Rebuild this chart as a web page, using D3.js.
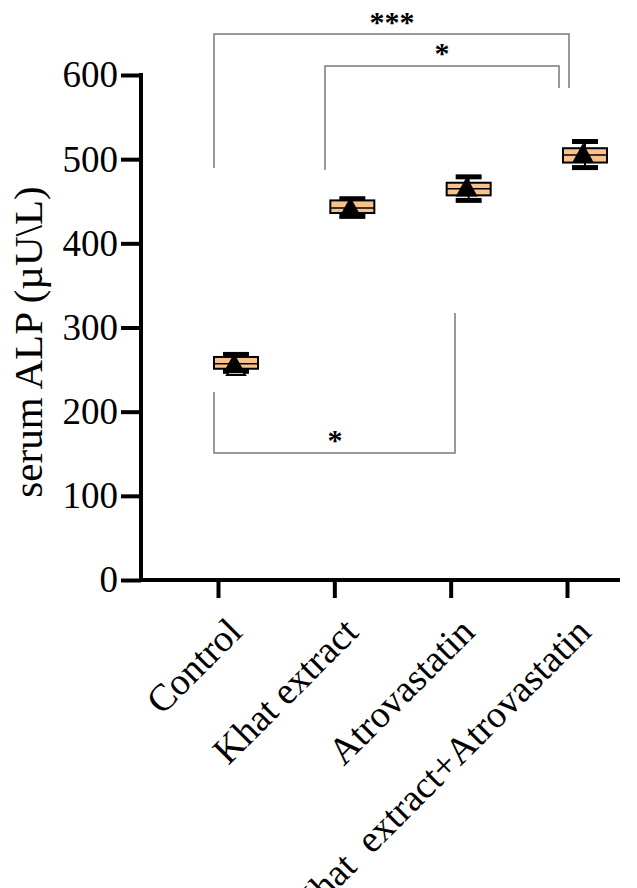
<!doctype html>
<html lang="en">
<head>
<meta charset="utf-8">
<script src="https://d3js.org/d3.v7.min.js"></script>
<style>
  body { margin:0; background:#fff; }
  text { font-family: "Liberation Serif", "Times New Roman", serif; }
</style>
</head>
<body>
<script>
  // data
  var groups  = ["Control", "Khat extract", "Atrovastatin", "Khat  extract+Atrovastatin"];
  var minVals = [248, 432, 451, 490];
  var q1Vals  = [251, 436, 457, 496];
  var medVals = [257, 442, 465, 505];
  var q3Vals  = [265, 451, 472, 513];
  var maxVals = [268, 453, 479, 521];
  var meanVals = [256, 442, 466, 506];
  var openPoint = [{g: "Control", v: 252}];
  var yTicks  = [0, 100, 200, 300, 400, 500, 600];

  var width = 637, height = 888;
  var x0 = 141, x1 = 620, yTop = 75, yBot = 580;

  var svg = d3.select("body").append("svg")
    .attr("width", width).attr("height", height);

  var y = d3.scaleLinear().domain([0, 600]).range([yBot, yTop]);
  var x = d3.scalePoint().domain(groups).range([218, 567]);

  // y axis
  var yAxis = d3.axisLeft(y).tickValues(yTicks).tickSize(20).tickSizeOuter(0).tickPadding(3);
  var gy = svg.append("g").attr("transform", "translate(" + x0 + ",0)").call(yAxis);
  gy.select(".domain").remove();
  gy.selectAll(".tick line").attr("stroke", "#000").attr("stroke-width", 4);
  gy.selectAll(".tick text").attr("font-size", 37).attr("fill", "#000")
    .attr("font-family", "Liberation Serif");
  svg.append("line").attr("x1", x0).attr("x2", x0).attr("y1", yTop - 2).attr("y2", yBot + 2)
    .attr("stroke", "#000").attr("stroke-width", 4);

  // x axis
  var xAxis = d3.axisBottom(x).tickSize(18).tickSizeOuter(0).tickFormat("");
  var gx = svg.append("g").attr("transform", "translate(0," + yBot + ")").call(xAxis);
  gx.select(".domain").remove();
  gx.selectAll(".tick line").attr("stroke", "#000").attr("stroke-width", 4);
  svg.append("line").attr("x1", x0 - 2).attr("x2", x1).attr("y1", yBot).attr("y2", yBot)
    .attr("stroke", "#000").attr("stroke-width", 4);

  svg.append("g").selectAll("text").data(groups).enter().append("text")
    .attr("transform", d => "translate(" + (x(d) + 26) + "," + (yBot + 54) + ") rotate(-45)")
    .attr("text-anchor", "end")
    .attr("font-size", 38)
    .attr("fill", "#000")
    .attr("xml:space", "preserve")
    .style("white-space", "pre")
    .text(d => d);

  // y label
  svg.append("text")
    .attr("transform", "translate(42,342) rotate(-90)")
    .attr("text-anchor", "middle")
    .attr("font-size", 41)
    .attr("fill", "#000")
    .text("serum ALP (\u00b5U\\L)");

  // boxes
  var bw = 44, cw = 26;
  var boxes = svg.append("g");
  function tri(cx, cy, s) {
    return "M" + cx + "," + (cy - s) + "L" + (cx + s) + "," + (cy + s * 0.8) + "L" + (cx - s) + "," + (cy + s * 0.8) + "Z";
  }
  groups.forEach(function (g, i) {
    var cx = x(g) + 18;
    boxes.append("line").attr("x1", cx).attr("x2", cx)
      .attr("y1", y(maxVals[i])).attr("y2", y(minVals[i]))
      .attr("stroke", "#000").attr("stroke-width", 2);
    [minVals[i], maxVals[i]].forEach(function (v) {
      boxes.append("line").attr("x1", cx - cw / 2).attr("x2", cx + cw / 2)
        .attr("y1", y(v)).attr("y2", y(v))
        .attr("stroke", "#000").attr("stroke-width", 5);
    });
    boxes.append("rect")
      .attr("x", cx - bw / 2).attr("width", bw)
      .attr("y", y(q3Vals[i])).attr("height", y(q1Vals[i]) - y(q3Vals[i]))
      .attr("fill", "#f8c28c").attr("stroke", "#000").attr("stroke-width", 2);
    boxes.append("line").attr("x1", cx - bw / 2).attr("x2", cx + bw / 2)
      .attr("y1", y(medVals[i])).attr("y2", y(medVals[i]))
      .attr("stroke", "#000").attr("stroke-width", 1.5);
  });
  openPoint.forEach(function (p) {
    boxes.append("path").attr("d", tri(x(p.g) + 18, y(p.v), 9))
      .attr("fill", "#fff").attr("stroke", "#000").attr("stroke-width", 2);
  });
  groups.forEach(function (g, i) {
    boxes.append("path").attr("d", tri(x(g) + 16, y(meanVals[i]), 11)).attr("fill", "#000");
  });

  // significance brackets
  var br = svg.append("g").attr("fill", "none").attr("stroke", "#7a7a7a").attr("stroke-width", 1.5);
  br.append("path").attr("d", "M214,168V34H569V88");
  br.append("path").attr("d", "M325,170V66H559V88");
  br.append("path").attr("d", "M214,392V453H455V313");
  var st = svg.append("g").attr("font-size", 30).attr("font-weight", "bold")
    .attr("text-anchor", "middle").style("font-family", "Liberation Sans, Arial, sans-serif");
  st.append("text").attr("x", 392).attr("y", 32).text("***");
  st.append("text").attr("x", 442).attr("y", 63).text("*");
  st.append("text").attr("x", 335).attr("y", 450).text("*");
</script>
</body>
</html>
